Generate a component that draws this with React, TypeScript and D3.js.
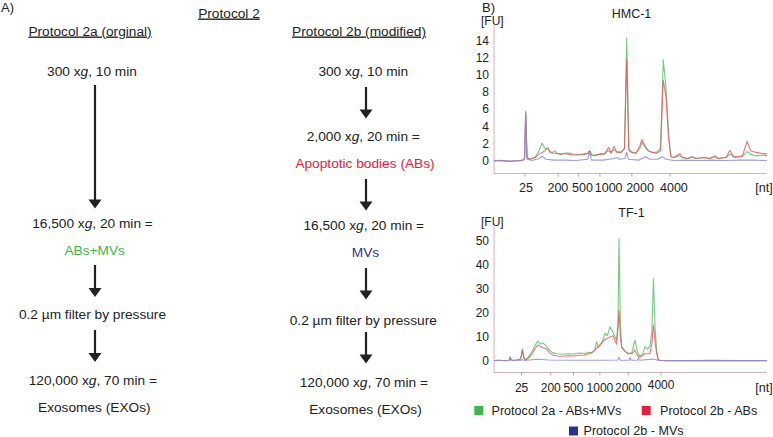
import React from "react";
import * as d3 from "d3";

type P = [number, number];

// ---------- Panel B data (x = migration units 0..100, y = FU) ----------
const sizeLabels = ["25", "200", "500", "1000", "2000", "4000"];
const hmcTickT = [11.4, 23.5, 30.9, 38.8, 50.5, 64.5];
const hmcLabelT = [11.7, 23.4, 32.4, 42.0, 53.5, 65.9];
const tfTickT = [10.1, 20.8, 29.1, 38.8, 49.2, 61.2];
const tfLabelT = [10.1, 20.8, 29.1, 38.8, 49.2, 61.2];
const hmcYTicks = [0, 2, 4, 6, 8, 10, 12, 14];
const tfYTicks = [0, 10, 20, 30, 40, 50];

const hmcGreen: P[] = [
  [0, 0], [2, 0.08], [4, 0.02], [6, -0.05], [8, 0.05], [9.5, 0], [10.5, 0.1], [11.2, 0.3], [11.6, 5.5], [12.1, 0.4],
  [13, 0.2], [15, 0.4], [16.5, 1.2], [17.6, 2.1], [18.7, 1.4], [19.8, 1.5], [20.5, 1.1], [21.5, 1.0], [22.3, 1.2],
  [23, 0.9], [24.5, 0.8], [26, 0.85], [27, 0.95], [29, 0.8], [31, 0.75], [33, 0.8], [34.5, 0.9], [35, 1.2],
  [35.8, 0.7], [37, 0.7], [38.8, 0.8], [40.5, 0.9], [42, 1.2], [43, 1.0], [44, 1.3], [45, 1.1], [46.5, 1.0],
  [47.8, 1.5], [48.6, 14.3], [49.4, 1.5], [50.5, 1.0], [52, 0.9], [53.5, 1.5], [54.2, 2.2], [55.3, 1.6],
  [56.5, 1.2], [58, 1.0], [59.5, 1.0], [61, 1.5], [62.0, 11.8], [63.0, 8.5], [64, 3], [64.8, 0.5], [66, 0.4],
  [68, 0.6], [69, 0.4], [71, 0.3], [72.5, 0.5], [74, 0.3], [77, 0.4], [79, 0.3], [81, 0.5], [82, 0.3], [85, 0.4],
  [86.4, 0.8], [88, 0.4], [91, 0.5], [92.7, 1.1], [94, 0.8], [96, 0.6], [98, 0.7], [100, 0.6],
];
const hmcRed: P[] = [
  [0, 0], [2, 0.05], [4, 0.03], [6, -0.05], [8, 0.02], [9.5, 0.05], [10.5, 0.1], [11.2, 0.3], [11.6, 5.8], [12.1, 0.4],
  [13, 0.2], [15, 0.4], [16.5, 0.8], [17.6, 1.0], [18.7, 1.2], [19.8, 1.5], [20.5, 1.0], [21.5, 0.9], [22.3, 0.9],
  [24.5, 0.8], [26, 0.9], [27, 0.8], [29, 0.7], [31, 0.7], [33, 0.8], [34.5, 0.9], [35, 1.2], [35.8, 0.7],
  [37, 0.6], [38.8, 0.8], [40.5, 0.8], [42, 1.6], [42.8, 0.9], [44, 1.7], [45, 1.0], [46.5, 1.0], [47.8, 1.4],
  [48.6, 11.8], [49.4, 1.2], [50.5, 1.0], [52, 0.9], [53.5, 1.8], [54.2, 2.5], [55.3, 1.8], [56.5, 1.2],
  [58, 1.0], [59.5, 0.9], [61, 1.2], [62.0, 9.4], [63.0, 7.5], [64, 2.5], [64.8, 0.5], [66, 0.4], [68.1, 0.85],
  [69, 0.4], [71, 0.3], [72.5, 0.5], [74, 0.3], [77, 0.4], [79, 0.3], [81, 0.6], [82, 0.3], [85, 0.4],
  [86.4, 1.25], [87.5, 0.6], [89, 0.5], [91, 0.6], [92.7, 2.3], [94, 1.2], [96, 1.0], [98, 0.9], [100, 0.8],
];
const hmcBlue: P[] = [
  [0, 0.05], [5, 0], [10.5, 0.05], [11.2, 0.2], [11.6, 5.6], [12.1, 0.2], [14, 0.05], [16.5, 0.3], [17.6, 0.55],
  [19, 0.2], [22, 0.1], [26, 0.1], [30, 0.05], [34.3, 0.2], [35, 1.1], [35.7, 0.1], [40, 0.1], [44, 0.3],
  [45, 0.4], [46, 0.2], [48, 0.3], [48.6, 1.0], [49.3, 0.2], [53, 0.1], [55.5, 0.5], [57, 0.2], [60, 0.2],
  [61.6, 0.5], [63, 0.2], [66, 0.05], [70, 0.1], [75, 0.05], [80, 0.1], [85, 0.05], [90, 0.1], [95, 0.1], [100, 0.05],
];

const tfGreen: P[] = [
  [0, 0.2], [2, 0.3], [4, 0.1], [5.5, 0.3], [5.9, 1.8], [6.4, 0.3], [8, 0.4], [9.5, 0.6], [10, 2], [10.4, 4.9],
  [10.9, 1.5], [11.5, 0.5], [12.5, 1.5], [14, 4], [15, 6.5], [16, 8.3], [17, 7], [18, 7.5], [19.3, 6],
  [20.3, 4.5], [21.5, 3.5], [23, 3], [25, 2.8], [27, 3], [29, 2.9], [30.5, 3.2], [32.1, 3.3], [33, 3.0],
  [34.5, 3.6], [36, 3.5], [37, 5], [37.6, 8], [38.3, 5.5], [39.5, 7.5], [40.7, 11.6], [41.5, 10.5],
  [42.5, 14.3], [43.6, 12], [44.9, 8.7], [45.4, 15], [45.8, 51], [46.3, 15], [46.8, 6], [48, 4], [49.1, 3],
  [50.5, 3.5], [51.6, 8.7], [52.5, 4], [53.5, 2], [54.5, 3], [55.3, 6], [56.2, 5], [57.1, 6], [57.8, 12],
  [58.4, 34.4], [59, 14], [59.6, 4], [60.2, 0.5], [61, 0.2], [63, 0.1], [70, 0.15], [80, 0.1], [90, 0.15], [100, 0.1],
];
const tfRed: P[] = [
  [0, 0.2], [2, 0.3], [4, 0.1], [5.5, 0.3], [5.9, 1.5], [6.4, 0.3], [8, 0.4], [9.5, 0.6], [10, 2], [10.4, 4.9],
  [10.9, 1.5], [11.5, 0.5], [12.5, 1], [14, 3], [15, 5], [16, 6.7], [17, 6], [18, 5.5], [19.3, 5], [20.3, 3.5],
  [21.5, 2.5], [23, 2.1], [25, 2.0], [27, 2.2], [29, 2.1], [31, 2.4], [33, 2.5], [35, 3.0], [36.5, 4],
  [37.6, 5.4], [39, 7], [40.7, 9], [42.5, 10], [43.6, 10.5], [44.9, 7], [45.3, 12], [45.8, 21], [46.3, 10],
  [46.8, 5.5], [48, 4], [49.1, 3], [50.5, 3], [51.6, 4.5], [52.5, 2.5], [53.5, 1.5], [55.3, 3], [57.1, 3],
  [57.8, 7], [58.4, 15], [59, 8], [59.6, 3], [60.2, 0.5], [61, 0.2], [63, 0.1], [70, 0.1], [80, 0.15], [90, 0.1], [100, 0.1],
];
const tfBlue: P[] = [
  [0, 0.2], [5.5, 0.2], [5.9, 0.8], [6.4, 0.2], [10, 0.3], [10.4, 0.8], [11, 0.2], [16, 0.7], [20, 0.4],
  [30, 0.3], [40, 0.3], [45.3, 0.4], [45.8, 1.4], [46.3, 0.3], [49.5, 0.3], [49.9, 1.5], [50.3, 0.3],
  [52.5, 0.3], [52.9, 1.5], [53.3, 0.3], [58.4, 0.8], [60, 0.3], [70, 0.2], [80, 0.25], [90, 0.2], [100, 0.2],
];

const legendItems = ["Protocol 2a - ABs+MVs", "Protocol 2b - ABs", "Protocol 2b - MVs"];

// ---------- Panel A flow text ----------
const leftSteps = ["300 xg, 10 min", "16,500 xg, 20 min =", "ABs+MVs", "0.2 µm filter by pressure", "120,000 xg, 70 min =", "Exosomes (EXOs)"];
const rightSteps = ["300 xg, 10 min", "2,000 xg, 20 min =", "Apoptotic bodies (ABs)", "16,500 xg, 20 min =", "MVs", "0.2 µm filter by pressure", "120,000 xg, 70 min =", "Exosomes (EXOs)"];

const FS = 13.7;

const COL = {
  green: "#3db54a",
  red: "#e0213d",
  blue: "#2e3192",
  lineG: "#55bb5e",
  lineR: "#e2525f",
  lineB: "#8c8cd6",
  text: "#222",
};

function StepText({ x, y, text, color }: { x: number; y: number; text: string; color?: string }) {
  const m = text.match(/^(.*x)(g)(,.*)$/);
  return (
    <text x={x} y={y} textAnchor="middle" fill={color || COL.text} fontSize={FS}>
      {m ? (
        <>
          {m[1]}
          <tspan fontStyle="italic">{m[2]}</tspan>
          {m[3]}
        </>
      ) : (
        text
      )}
    </text>
  );
}

function Arrow({ x, y1, y2 }: { x: number; y1: number; y2: number }) {
  const hh = 9;
  const hw = 6.5;
  return (
    <g fill="#222" stroke="#222">
      <line x1={x} y1={y1} x2={x} y2={y2 - hh + 1} strokeWidth={2.2} />
      <path d={`M${x - hw},${y2 - hh} L${x + hw},${y2 - hh} L${x},${y2} Z`} stroke="none" />
    </g>
  );
}

function Panel({
  title, yTicks, yDomainTop, yTopPx, y0Px, tickT, labelT, labelFs, series, axisTop, axisBottom, titleY, fuY, labelY, label4000Y,
}: {
  title: string; yTicks: number[]; yDomainTop: number; yTopPx: number; y0Px: number; tickT: number[]; labelT: number[]; labelFs: number;
  series: P[][]; axisTop: number; axisBottom: number; titleY: number; fuY: number; labelY: number; label4000Y: number;
}) {
  const x = d3.scaleLinear().domain([0, 100]).range([494, 767]);
  const y = d3.scaleLinear().domain([0, yDomainTop]).range([y0Px, yTopPx]);
  const line = d3.line<P>().x((d) => x(d[0])).y((d) => y(d[1]));
  const colors = [COL.lineG, COL.lineR, COL.lineB];
  return (
    <g>
      <text x={631.5} y={titleY} textAnchor="middle" fontSize={12.5} fill={COL.text}>{title}</text>
      <text x={481} y={fuY} fontSize={12} fill={COL.text}>[FU]</text>
      {yTicks.map((t) => (
        <text key={t} x={489} y={y(t) + 4} textAnchor="end" fontSize={12} fill={COL.text}>{t}</text>
      ))}
      <line x1={x(0)} x2={x(100)} y1={axisBottom - 1.5} y2={axisBottom - 1.5} stroke="#c8b8bc" strokeWidth={1} />
      {tickT.map((t, i) => (
        <line key={i} x1={x(t)} x2={x(t)} y1={axisBottom - 1.5} y2={axisBottom + 1.5} stroke="#aaa" strokeWidth={1} />
      ))}
      <line x1={x(0)} x2={x(0)} y1={axisTop} y2={axisBottom - 1.5} stroke="#eaa6b0" strokeWidth={1} />
      {series.map((s, i) => (
        <path key={i} d={line(s) || ""} fill="none" stroke={colors[i]} strokeWidth={1.1} strokeOpacity={i === 2 ? 0.85 : 0.8} strokeLinejoin="round" />
      ))}
      {sizeLabels.map((l, i) => (
        <text key={l} x={x(labelT[i])} y={i === 5 ? label4000Y : labelY} textAnchor="middle" fontSize={labelFs} fill={COL.text}>{l}</text>
      ))}
      <text x={764} y={labelY} textAnchor="middle" fontSize={12.5} fill={COL.text}>[nt]</text>
    </g>
  );
}

export default function App() {
  return (
    <svg
      width={773}
      height={437}
      style={{ position: "absolute", left: 0, top: 0, background: "#fff" }}
      fontFamily="'Liberation Sans', Arial, sans-serif"
    >
      {/* Panel A */}
      <text x={1} y={11.5} fontSize={13} fill={COL.text}>A)</text>
      <text x={229} y={17.5} textAnchor="middle" fontSize={FS} fill={COL.text} textDecoration="underline">Protocol 2</text>
      <text x={90} y={35.5} textAnchor="middle" fontSize={FS} fill={COL.text} textDecoration="underline">Protocol 2a (orginal)</text>
      <text x={359} y={35.5} textAnchor="middle" fontSize={FS} fill={COL.text} textDecoration="underline">Protocol 2b (modified)</text>

      <StepText x={92} y={75.5} text={leftSteps[0]} />
      <Arrow x={95} y1={85} y2={208.5} />
      <StepText x={92.5} y={227.5} text={leftSteps[1]} />
      <StepText x={94.7} y={254.5} text={leftSteps[2]} color={COL.green} />
      <Arrow x={95} y1={265} y2={297} />
      <StepText x={92.5} y={318.5} text={leftSteps[3]} />
      <Arrow x={95} y1={330} y2={362} />
      <StepText x={92.8} y={385} text={leftSteps[4]} />
      <StepText x={94.3} y={412} text={leftSteps[5]} />

      <StepText x={363.3} y={75.5} text={rightSteps[0]} />
      <Arrow x={366} y1={87} y2={118.5} />
      <StepText x={363.3} y={141} text={rightSteps[1]} />
      <StepText x={365} y={167.5} text={rightSteps[2]} color={COL.red} />
      <Arrow x={366} y1={179} y2={210.5} />
      <StepText x={363.8} y={229.5} text={rightSteps[3]} />
      <StepText x={365.5} y={257} text={rightSteps[4]} color={COL.blue} />
      <Arrow x={366} y1={268} y2={299.5} />
      <StepText x={363.3} y={324.5} text={rightSteps[5]} />
      <Arrow x={366} y1={332} y2={363.5} />
      <StepText x={363.8} y={387} text={rightSteps[6]} />
      <StepText x={365.5} y={414.3} text={rightSteps[7]} />

      {/* Panel B */}
      <text x={482} y={12} fontSize={13} fill={COL.text}>B)</text>
      <Panel
        title="HMC-1" yTicks={hmcYTicks} yDomainTop={14} yTopPx={40.7} y0Px={161} tickT={hmcTickT} labelT={hmcLabelT} labelFs={12.5}
        series={[hmcGreen, hmcRed, hmcBlue]} axisTop={25} axisBottom={175} titleY={17.5} fuY={25}
        labelY={191.5} label4000Y={191.5}
      />
      <Panel
        title="TF-1" yTicks={tfYTicks} yDomainTop={50} yTopPx={241} y0Px={361} tickT={tfTickT} labelT={tfLabelT} labelFs={12}
        series={[tfGreen, tfRed, tfBlue]} axisTop={225} axisBottom={374} titleY={216.5} fuY={226}
        labelY={392} label4000Y={389}
      />

      {/* Legend */}
      <rect x={474.3} y={406} width={9} height={9} fill={COL.green} />
      <text x={491.5} y={414.5} fontSize={12.6} fill={COL.text}>{legendItems[0]}</text>
      <rect x={641.7} y={406} width={9} height={9} fill={COL.red} />
      <text x={660} y={414.5} fontSize={12.6} fill={COL.text}>{legendItems[1]}</text>
      <rect x={569} y={426.5} width={9} height={9} fill={COL.blue} />
      <text x={583.5} y={435} fontSize={12.6} fill={COL.text}>{legendItems[2]}</text>
    </svg>
  );
}
